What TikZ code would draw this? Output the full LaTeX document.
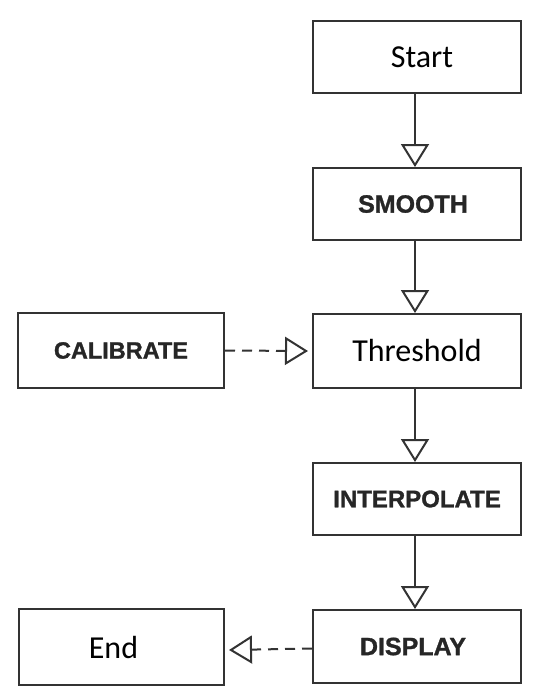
\documentclass[tikz,border=0pt]{standalone}
\usepackage{fontspec}
\setmainfont{Liberation Sans}
\newfontfamily\calib{Carlito}
\newfontfamily\heavy{Liberation Sans Bold}[FakeBold=1.2]
\usetikzlibrary{arrows.meta}
\definecolor{ink}{HTML}{333333}
\definecolor{txt}{HTML}{262626}
\tikzset{
  box/.style={draw=ink, line width=2pt, minimum width=208pt, minimum height=72pt, inner sep=0pt, anchor=north west},
  boldlbl/.style={font=\heavy\fontsize{25}{27}\selectfont, text=txt},
  plainlbl/.style={font=\calib\fontsize{32}{35}\selectfont, text=black},
  flow/.style={draw=ink, line width=2pt, -{Triangle[open, length=23pt, width=28pt, line width=2pt]}},
  dflow/.style={flow, dash pattern=on 10pt off 7pt},
}
\begin{document}
\begin{tikzpicture}[x=1pt, y=-1pt]
\useasboundingbox[fill=white] (0,0) rectangle (535,699);
\node[box, plainlbl] (start) at (312,20) {\hspace*{10pt}Start};
\node[box, boldlbl] (smooth) at (312,167) {\hspace*{-8pt}SMOOTH};
\node[box, plainlbl, minimum height=74pt] (thresh) at (312,313) {Threshold};
\node[box, boldlbl, minimum width=206pt, minimum height=75pt, font=\heavy\fontsize{23.5}{26}\selectfont] (calib) at (17,312) {CALIBRATE};
\node[box, boldlbl, font=\heavy\fontsize{24}{26}\selectfont] (interp) at (312,462) {INTERPOLATE};
\node[box, boldlbl, minimum height=73pt] (display) at (312,609) {\hspace*{-8pt}DISPLAY};
\node[box, plainlbl, minimum width=205pt, minimum height=76pt] (end) at (18,608) {End\hspace*{16pt}};

\draw[flow] ([xshift=-2pt]start.south) -- ([xshift=-2pt]smooth.north);
\draw[flow] ([xshift=-2pt]smooth.south) -- ([xshift=-2pt]thresh.north);
\draw[flow] ([xshift=-2pt]thresh.south) -- ([xshift=-2pt]interp.north);
\draw[flow] ([xshift=-2pt]interp.south) -- ([xshift=-2pt]display.north);
\draw[dflow] (calib.east) -- ([xshift=-4pt]thresh.west);
\draw[dflow] ([yshift=-2pt]display.west) -- ([xshift=4pt,yshift=-3pt]end.east);
\end{tikzpicture}
\end{document}
